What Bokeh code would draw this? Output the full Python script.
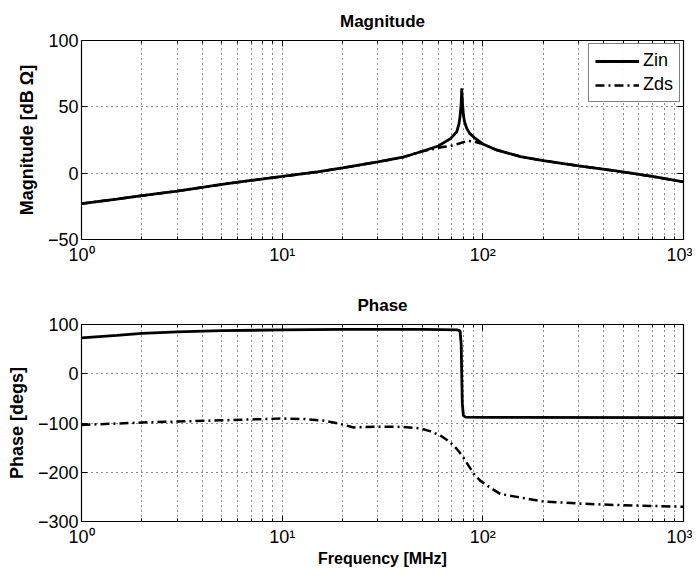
from bokeh.plotting import figure
from bokeh.layouts import column
from bokeh.models import (FixedTicker, CustomJSTickFormatter, LogAxis, LinearAxis,
                          Legend, LegendItem)
from bokeh.embed import file_html
from bokeh.resources import INLINE

# ---- data ----
freq_zin_mag = [1, 1.5, 2, 3, 5, 7, 10, 15, 20, 30, 40, 50, 60, 69, 74, 76, 77, 78, 78.5,
                79, 80, 81, 83, 86, 92, 100, 117, 154, 200, 300, 470, 700, 1000]
zin_mag = [-23, -19.5, -17, -13.5, -8.5, -5.5, -2.5, 1, 4, 8.5, 12, 16.5, 20.5, 26, 31, 37, 43, 52, 64,
           55, 44, 39, 34, 30, 26, 22, 17.5, 12.5, 9.5, 5.5, 1.5, -2.5, -6.5]

freq_zds_mag = [1, 1.5, 2, 3, 5, 7, 10, 15, 20, 30, 40, 50, 56, 62, 69, 75, 84, 92, 100,
                117, 154, 200, 300, 470, 700, 1000]
zds_mag = [-23, -19.5, -17, -13.5, -8.5, -5.5, -2.5, 1, 4, 8.5, 12, 16.5, 18, 19.5, 20.5, 22, 24.4, 23.5, 22,
           17.5, 12.5, 9.5, 5.5, 1.5, -2.5, -6.5]

freq_zin_ph = [1, 1.5, 2, 3, 5, 10, 20, 50, 75, 77, 78, 78.5, 79, 80, 82, 100, 1000]
zin_ph = [73, 78, 82, 85, 87.5, 89, 90, 90, 89, 87, 60, 0, -60, -85, -88, -88.5, -89]

freq_zds_ph = [1, 1.5, 2, 3, 5, 10, 13, 16, 19.5, 22.7, 26, 32, 40, 48.8, 55, 61.7, 66, 71.8, 76,
               80.9, 85, 90, 97, 105, 122, 148, 200, 317, 500, 1000]
zds_ph = [-104, -101, -99, -97, -94.5, -91, -92, -95, -102, -109, -108, -107.5, -108, -111, -117, -126,
          -134, -146, -158, -173, -187, -203, -217, -227, -244, -250, -259.5, -264, -267, -270]

x_major = [1, 10, 100, 1000]
mag_ticks = [-50, 0, 50, 100]
ph_ticks = [-300, -200, -100, 0, 100]

FONT = "Liberation Sans"
x_minor = [k * d for d in [1, 10, 100] for k in range(2, 10)]

xfmt_code = """
const s = {1: '10\u2070', 10: '10\u00b9', 100: '10\u00b2', 1000: '10\u00b3'};
const r = Math.round(tick);
return (r in s) ? s[r] : '';
"""
yfmt_code = "return tick < 0 ? '\u2212' + Math.abs(tick) : '' + tick;"


def style_axis(ax, labels=True, lab_size="18px"):
    ax.major_tick_in = 6
    ax.major_tick_out = 0
    ax.minor_tick_in = 3
    ax.minor_tick_out = 0
    ax.axis_line_color = None
    ax.major_tick_line_color = "black"
    ax.minor_tick_line_color = "black"
    ax.major_label_text_font = FONT
    ax.major_label_text_color = "black"
    ax.major_label_text_font_size = "18px"
    if not labels:
        ax.major_label_text_font_size = "1px"
        ax.major_label_text_alpha = 0
        ax.major_label_standoff = 0
    ax.axis_label_text_font = FONT
    ax.axis_label_text_font_style = "bold"
    ax.axis_label_text_font_size = lab_size
    ax.axis_label_text_color = "black"


def make_fig(title, ylab, yr, yticks, height, top, bottom, xlab=None):
    p = figure(width=692, height=height, x_axis_type="log", x_range=(1, 1000), y_range=yr,
               output_backend="svg", toolbar_location=None,
               min_border_left=81, min_border_right=9, min_border_top=top, min_border_bottom=bottom)
    p.title.text = title
    p.title.align = "center"
    p.title.text_font = FONT
    p.title.text_font_style = "bold"
    p.title.text_font_size = "17px"
    p.title.text_color = "black"
    p.title.standoff = 19
    p.outline_line_color = "black"
    p.outline_line_width = 1.2
    p.background_fill_color = "white"
    p.border_fill_color = "white"

    xt = FixedTicker(ticks=x_major, minor_ticks=x_minor)
    yt = FixedTicker(ticks=yticks)
    p.xaxis.ticker = xt
    p.xaxis.formatter = CustomJSTickFormatter(code=xfmt_code)
    p.yaxis.ticker = yt
    p.yaxis.formatter = CustomJSTickFormatter(code=yfmt_code)
    p.yaxis.axis_label = ylab
    p.yaxis.axis_label_standoff = 8
    if xlab:
        p.xaxis.axis_label = xlab
        p.xaxis.axis_label_standoff = 0
    style_axis(p.xaxis[0], lab_size="16px")
    style_axis(p.yaxis[0], lab_size="18px")
    p.xaxis.major_label_standoff = 5
    p.yaxis.major_label_standoff = 3

    top_ax = LogAxis(ticker=FixedTicker(ticks=x_major, minor_ticks=x_minor),
                     formatter=CustomJSTickFormatter(code=xfmt_code))
    style_axis(top_ax, labels=False)
    p.add_layout(top_ax, "above")
    right_ax = LinearAxis(ticker=FixedTicker(ticks=yticks),
                          formatter=CustomJSTickFormatter(code=yfmt_code))
    style_axis(right_ax, labels=False)
    p.add_layout(right_ax, "right")

    p.xgrid.ticker = xt
    p.ygrid.ticker = yt
    for g in (p.xgrid[0], p.ygrid[0]):
        g.grid_line_color = "#222222"
        g.grid_line_dash = "1 4"
        g.grid_line_width = 1
    p.xgrid.minor_grid_line_color = "#222222"
    p.xgrid.minor_grid_line_dash = "1 4"
    p.xgrid.minor_grid_line_width = 1
    return p


p1 = make_fig("Magnitude", "Magnitude [dB \u03a9]", (-50, 100), mag_ticks, 284, 38, 45)
r1 = p1.line(freq_zin_mag, zin_mag, line_color="black", line_width=2.8)
r2 = p1.line(freq_zds_mag, zds_mag, line_color="black", line_width=2.5, line_dash="9 4 2 4")
leg = Legend(items=[LegendItem(label="Zin", renderers=[r1]), LegendItem(label="Zds", renderers=[r2])],
             location="top_right")
leg.border_line_color = "black"
leg.border_line_width = 1
leg.label_text_font = FONT
leg.label_text_font_size = "18px"
leg.label_text_color = "black"
leg.glyph_width = 44
leg.glyph_height = 18
leg.label_height = 18
leg.label_standoff = 4
leg.spacing = 3
leg.padding = 6
leg.margin = 3
p1.add_layout(leg)

p2 = make_fig("Phase", "Phase [degs]", (-300, 100), ph_ticks, 290, 39, 53, xlab="Frequency [MHz]")
p2.line(freq_zin_ph, zin_ph, line_color="black", line_width=2.8)
p2.line(freq_zds_ph, zds_ph, line_color="black", line_width=2.5, line_dash="9 4 2 4")

layout = column(p1, p2, spacing=0)
open("out.html", "w").write(file_html(layout, INLINE))
